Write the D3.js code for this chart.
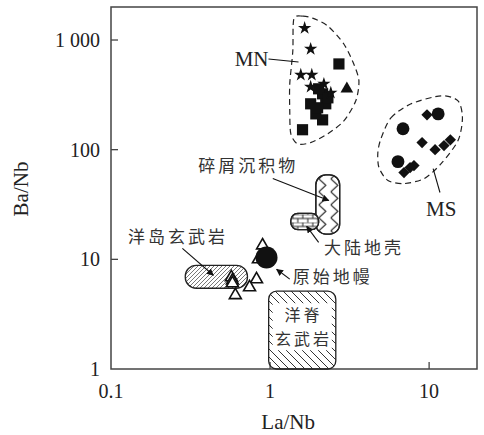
<!DOCTYPE html>
<html>
<head>
<meta charset="utf-8">
<script src="https://cdn.jsdelivr.net/npm/d3@7/dist/d3.min.js"></script>
<style>
  body { margin: 0; background: #fff; }
  .tick-label, .axis-title, .group-label { font-family: "Liberation Serif", "DejaVu Serif", serif; fill: #222; }
  .cn { font-family: "Noto Sans CJK SC", sans-serif; fill: #333; letter-spacing: 3px; }
</style>
</head>
<body>
<div id="chart"></div>
<script>
// La/Nb vs Ba/Nb discrimination diagram
const width = 484;
const height = 435;

const xTicks = [0.1, 1, 10];
const xTickLabels = ['0.1', '1', '10'];
const yTicks = [1, 10, 100, 1000];
const yTickLabels = ['1', '10', '100', '1 000'];

// sample points [La/Nb, Ba/Nb]
const mnStars = [[1.65, 1285], [1.80, 828], [1.56, 481], [1.83, 481], [1.80, 374], [2.18, 398], [2.41, 330]];
const mnSquares = [[2.71, 605], [1.60, 152], [2.14, 187], [1.94, 212], [1.80, 262], [2.14, 323],
  [2.02, 359], [2.24, 262], [1.99, 241], [2.31, 297]];
const mnTriangles = [[3.04, 359]];
const msCircles = [[11.4, 212], [6.85, 155], [6.37, 77.8]];
const msDiamonds = [[9.70, 208], [9.03, 116], [10.9, 100], [12.4, 109], [13.6, 123], [8.03, 71.6], [6.95, 61.8], [7.59, 68.6]];
const openTriangles = [[0.897, 13.4], [0.845, 10], [0.571, 6.86], [0.580, 6.4], [0.580, 6.05], [0.822, 6.58], [0.743, 5.56], [0.605, 4.71]];
const primitiveMantle = [0.95, 10.4];

// dashed field outlines
const mnOutline = [[1.41, 1552], [1.60, 1652], [1.85, 1585], [2.31, 1340], [2.91, 920], [3.36, 605], [3.62, 424],
  [3.46, 279], [2.91, 183], [2.31, 140], [1.80, 116], [1.49, 113], [1.35, 140], [1.33, 226], [1.33, 398], [1.39, 794]];
const msOutline = [[4.98, 126], [5.75, 195], [7.70, 262], [11.9, 310], [15.2, 279], [16.2, 195], [15.2, 121],
  [11.9, 74.6], [9.30, 54.5], [6.95, 49.1], [5.51, 52.3], [4.84, 68.6], [4.76, 93.9]];

// reservoir boxes [xmin, xmax, ymin, ymax]
const oibBox = [0.293, 0.721, 5.45, 8.82];
const morbBox = [0.98, 2.59, 1, 5.12];
const sedimentBox = [1.94, 2.74, 17, 59];
const crustBox = [1.35, 2.02, 18.7, 26.2];

const svg = d3.select('#chart')
  .append('svg')
  .attr('width', width)
  .attr('height', height);

const x = d3.scaleLog().domain([0.1, 20]).range([111, 477]);
const y = d3.scaleLog().domain([1, 2000]).range([369, 7]);

const defs = svg.append('defs');

defs.append('marker')
  .attr('id', 'arrow')
  .attr('viewBox', '0 0 10 10')
  .attr('refX', 9)
  .attr('refY', 5)
  .attr('markerWidth', 7)
  .attr('markerHeight', 7)
  .attr('markerUnits', 'userSpaceOnUse')
  .attr('orient', 'auto')
  .append('path')
  .attr('d', 'M0,0L10,5L0,10z')
  .attr('fill', '#111');

const oibHatch = defs.append('pattern')
  .attr('id', 'oib-hatch')
  .attr('patternUnits', 'userSpaceOnUse')
  .attr('width', 4)
  .attr('height', 4);
oibHatch.append('path')
  .attr('d', 'M-1,1L1,-1M0,4L4,0M3,5L5,3')
  .attr('stroke', '#555')
  .attr('stroke-width', 0.8);

const morbHatch = defs.append('pattern')
  .attr('id', 'morb-hatch')
  .attr('patternUnits', 'userSpaceOnUse')
  .attr('width', 8)
  .attr('height', 8);
morbHatch.append('path')
  .attr('d', 'M-2,-2L10,10M-2,6L2,10M6,-2L10,2')
  .attr('stroke', '#333')
  .attr('stroke-width', 1);

const zigzag = defs.append('pattern')
  .attr('id', 'zigzag')
  .attr('patternUnits', 'userSpaceOnUse')
  .attr('x', x(sedimentBox[0]))
  .attr('y', y(sedimentBox[3]) + 4)
  .attr('width', 12)
  .attr('height', 13);
zigzag.append('path')
  .attr('d', 'M3,0L10,6.5L3,13')
  .attr('fill', 'none')
  .attr('stroke', '#222')
  .attr('stroke-width', 1.1);

const brick = defs.append('pattern')
  .attr('id', 'brick')
  .attr('patternUnits', 'userSpaceOnUse')
  .attr('x', x(crustBox[0]))
  .attr('y', y(crustBox[3]) + 1)
  .attr('width', 10)
  .attr('height', 8);
brick.append('path')
  .attr('d', 'M0,0H10M0,4H10M2,0V4M7,4V8')
  .attr('stroke', '#222')
  .attr('stroke-width', 1);

// frame
svg.append('rect')
  .attr('x', x(0.1))
  .attr('y', y(2000))
  .attr('width', x(20) - x(0.1))
  .attr('height', y(1) - y(2000))
  .attr('fill', 'none')
  .attr('stroke', '#444')
  .attr('stroke-width', 1.5);

svg.selectAll('.xtick')
  .data(xTicks.slice(1))
  .enter()
  .append('line')
  .attr('x1', d => x(d))
  .attr('x2', d => x(d))
  .attr('y1', y(1))
  .attr('y2', y(1) - 7)
  .attr('stroke', '#444')
  .attr('stroke-width', 1.3);

svg.selectAll('.ytick')
  .data(yTicks.slice(1))
  .enter()
  .append('line')
  .attr('x1', x(0.1))
  .attr('x2', x(0.1) + 7)
  .attr('y1', d => y(d))
  .attr('y2', d => y(d))
  .attr('stroke', '#444')
  .attr('stroke-width', 1.3);

svg.selectAll('.xlabel')
  .data(xTicks)
  .enter()
  .append('text')
  .attr('class', 'tick-label')
  .attr('x', d => x(d))
  .attr('y', y(1) + 29)
  .attr('text-anchor', 'middle')
  .attr('font-size', 20)
  .text((d, i) => xTickLabels[i]);

svg.selectAll('.ylabel')
  .data(yTicks)
  .enter()
  .append('text')
  .attr('class', 'tick-label')
  .attr('x', x(0.1) - 11)
  .attr('y', d => y(d) + 7)
  .attr('text-anchor', 'end')
  .attr('font-size', 20)
  .text((d, i) => yTickLabels[i]);

svg.append('text')
  .attr('class', 'axis-title')
  .attr('x', x(1.3))
  .attr('y', 429)
  .attr('text-anchor', 'middle')
  .attr('font-size', 21)
  .text('La/Nb');

svg.append('text')
  .attr('class', 'axis-title')
  .attr('transform', 'translate(28, 189) rotate(-90)')
  .attr('text-anchor', 'middle')
  .attr('font-size', 21)
  .text('Ba/Nb');

// dashed fields
const outline = d3.line()
  .x(d => x(d[0]))
  .y(d => y(d[1]))
  .curve(d3.curveCardinalClosed.tension(0.2));

[mnOutline, msOutline].forEach((pts) => {
  svg.append('path')
    .attr('d', outline(pts))
    .attr('fill', 'none')
    .attr('stroke', '#222')
    .attr('stroke-width', 1.2)
    .attr('stroke-dasharray', '6,4');
});

function box(b, fill, rx) {
  return svg.append('rect')
    .attr('x', x(b[0]))
    .attr('y', y(b[3]))
    .attr('width', x(b[1]) - x(b[0]))
    .attr('height', y(b[2]) - y(b[3]))
    .attr('rx', rx)
    .attr('fill', fill)
    .attr('stroke', '#222')
    .attr('stroke-width', 1.3);
}

box(oibBox, 'url(#oib-hatch)', 11);
box(morbBox, 'url(#morb-hatch)', 8);
svg.append('rect')
  .attr('x', x(morbBox[0]) + 4)
  .attr('y', y(morbBox[3]) + 12)
  .attr('width', x(morbBox[1]) - x(morbBox[0]) - 8)
  .attr('height', 47)
  .attr('fill', '#fff');
box(sedimentBox, '#fff', 10);
box(sedimentBox, 'url(#zigzag)', 10);
box(crustBox, '#fff', 7);
box(crustBox, 'url(#brick)', 7);

// symbols
function plot(data, type, size, opts) {
  svg.append('g')
    .selectAll('path')
    .data(data)
    .enter()
    .append('path')
    .attr('transform', d => `translate(${x(d[0])},${y(d[1])}) rotate(${opts.rotate || 0})`)
    .attr('d', d3.symbol().type(type).size(size))
    .attr('fill', opts.fill)
    .attr('stroke', opts.stroke || 'none')
    .attr('stroke-width', opts.strokeWidth || 0);
}

plot(openTriangles, d3.symbolTriangle, 62, { fill: '#fff', stroke: '#111', strokeWidth: 1.6 });
plot(mnSquares, d3.symbolSquare, 125, { fill: '#111' });
plot(mnStars, d3.symbolStar, 55, { fill: '#111' });
plot(mnTriangles, d3.symbolTriangle, 70, { fill: '#111' });
plot(msCircles, d3.symbolCircle, 130, { fill: '#111' });
plot(msDiamonds, d3.symbolSquare, 64, { fill: '#111', rotate: 45 });

svg.append('circle')
  .attr('cx', x(primitiveMantle[0]))
  .attr('cy', y(primitiveMantle[1]))
  .attr('r', 11)
  .attr('fill', '#111');

// annotations
function leader(p0, p1, arrow) {
  const l = svg.append('line')
    .attr('x1', x(p0[0]))
    .attr('y1', y(p0[1]))
    .attr('x2', x(p1[0]))
    .attr('y2', y(p1[1]))
    .attr('stroke', '#111')
    .attr('stroke-width', 1.1);
  if (arrow) l.attr('marker-end', 'url(#arrow)');
}

function label(p, txt, cls, anchor, size) {
  svg.append('text')
    .attr('class', cls)
    .attr('x', x(p[0]))
    .attr('y', y(p[1]))
    .attr('text-anchor', anchor)
    .attr('font-size', size)
    .text(txt);
}

label([0.978, 580], 'MN', 'group-label', 'end', 21);
leader([0.978, 672], [1.51, 631], false);
label([11.9, 25.1], 'MS', 'group-label', 'middle', 21);
leader([11.7, 40.7], [10.6, 67.2], false);

label([0.354, 63], '碎屑沉积物', 'cn', 'start', 17);
leader([1.04, 54.5], [2.34, 34.4], true);
label([0.128, 14.0], '洋岛玄武岩', 'cn', 'start', 17);
leader([0.281, 12.6], [0.440, 7.16], true);
label([2.18, 11.3], '大陆地壳', 'cn', 'start', 17);
leader([2.02, 14.3], [1.70, 20.0], true);
label([1.39, 6.05], '原始地幔', 'cn', 'start', 17);
leader([1.33, 6.6], [1.10, 8.11], true);
label([1.62, 2.72], '洋脊', 'cn', 'middle', 16);
label([1.62, 1.66], '玄武岩', 'cn', 'middle', 16);
</script>
</body>
</html>
